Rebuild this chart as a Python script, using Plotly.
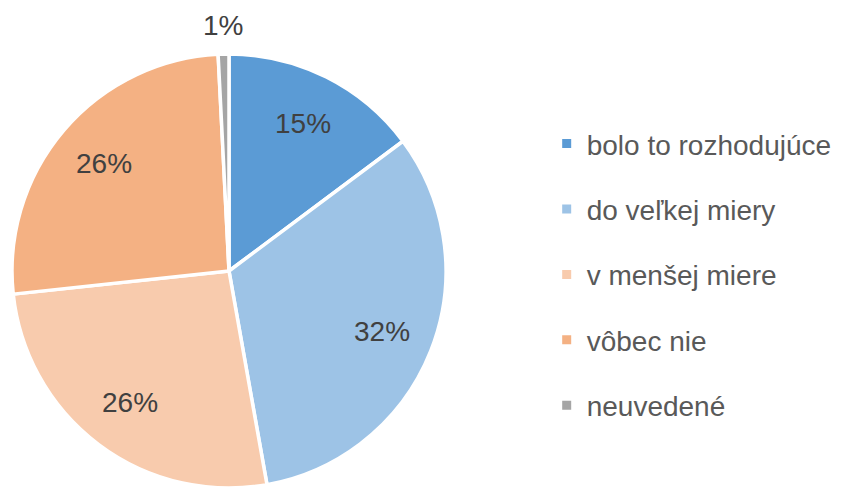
import math
import plotly.graph_objects as go

categories = ["bolo to rozhodujúce", "do veľkej miery", "v menšej miere", "vôbec nie", "neuvedené"]
values = [14.8, 32.4, 26.1, 25.9, 0.8]
labels_text = ["15%", "32%", "26%", "26%", "1%"]
colors = ["#5B9BD5", "#9DC3E6", "#F8CBAD", "#F4B183", "#A5A5A5"]

W, H = 845, 490
OFF = 8  # page body margin (pixels) added by the browser
FONT = "Liberation Sans, Arial"

# target pie geometry on screen (pixels from top-left)
scx, scy, sr = 229, 271, 217
pcx, pcy = scx - OFF, scy - OFF  # in figure pixels

fig = go.Figure()
fig.add_trace(go.Pie(
    labels=categories,
    values=values,
    textinfo="none",
    sort=False,
    direction="clockwise",
    rotation=0,
    marker=dict(colors=colors, line=dict(color="white", width=3.5)),
    domain=dict(x=[(pcx - sr) / W, (pcx + sr) / W],
                y=[(H - pcy - sr) / H, (H - pcy + sr) / H]),
    showlegend=False,
    hoverinfo="label+percent",
))

# data labels along each slice's mid-angle
total = sum(values)
cum = 0.0
for i, (v, t) in enumerate(zip(values, labels_text)):
    mid = (cum + v / 2) / total * 2 * math.pi
    cum += v
    dist = 0.76 * sr if v / total > 0.05 else sr + 29
    px = pcx + dist * math.sin(mid)
    py = pcy - dist * math.cos(mid)
    fig.add_annotation(
        x=px / W, y=1 - py / H, xref="paper", yref="paper",
        text=t, showarrow=False,
        font=dict(family=FONT, size=28, color="#404040"),
        xanchor="center", yanchor="middle",
    )

for i, (cat, col) in enumerate(zip(categories, colors)):
    fig.add_trace(go.Scatter(
        x=[None], y=[None], mode="markers", name=cat,
        marker=dict(symbol="square", size=9, color=col),
        legendgroup=f"g{i}", showlegend=True,
    ))

fig.update_layout(
    width=W, height=H,
    margin=dict(l=0, r=0, t=0, b=0),
    paper_bgcolor="white", plot_bgcolor="white",
    xaxis=dict(visible=False), yaxis=dict(visible=False),
    legend=dict(
        x=0.6375, y=0.7737, xanchor="left", yanchor="top",
        font=dict(family=FONT, size=28, color="#595959"),
        tracegroupgap=26, itemwidth=30,
        bgcolor="rgba(0,0,0,0)",
    ),
)

fig.write_html("out.html")
